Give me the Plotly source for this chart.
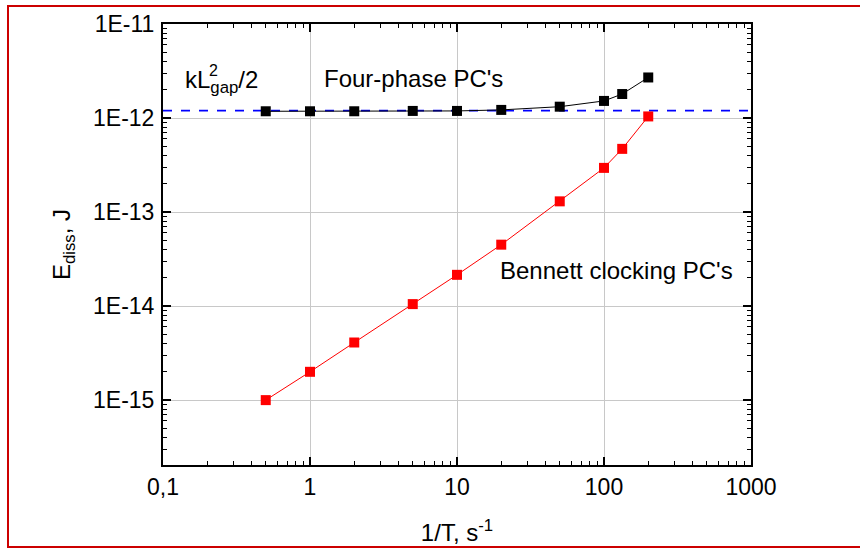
import plotly.graph_objects as go

# Data
freq = [0.5, 1, 2, 5, 10, 20, 50, 100, 133, 200]
four_phase = [1.18e-12, 1.18e-12, 1.18e-12, 1.19e-12, 1.19e-12, 1.22e-12, 1.32e-12, 1.52e-12, 1.8e-12, 2.7e-12]
bennett = [1.0e-15, 2.0e-15, 4.1e-15, 1.05e-14, 2.15e-14, 4.5e-14, 1.3e-13, 2.95e-13, 4.7e-13, 1.04e-12]
kl_level = 1.2e-12
x_range_vals = [0.1, 1000]

x_tickvals = [0.1, 1, 10, 100, 1000]
x_ticktext = ["0,1", "1", "10", "100", "1000"]
y_tickvals = [1e-15, 1e-14, 1e-13, 1e-12, 1e-11]
y_ticktext = ["1E-15", "1E-14", "1E-13", "1E-12", "1E-11"]
x_minor = [m * 10.0 ** e for e in range(-1, 3) for m in range(2, 10)]
y_minor = [m * 10.0 ** e for e in range(-16, -11) for m in range(2, 10)]

FONT = "Liberation Sans, Arial, sans-serif"

fig = go.Figure()

fig.add_trace(go.Scatter(
    x=x_range_vals, y=[kl_level, kl_level], mode="lines",
    line=dict(color="#0000ff", width=1.8, dash="dash"), showlegend=False))

fig.add_trace(go.Scatter(
    x=freq, y=four_phase, mode="lines+markers",
    line=dict(color="black", width=1),
    marker=dict(symbol="square", size=10, color="black"), showlegend=False))

fig.add_trace(go.Scatter(
    x=freq, y=bennett, mode="lines+markers",
    line=dict(color="#ff0000", width=1),
    marker=dict(symbol="square", size=10, color="#ff0000"), showlegend=False))

axis_common = dict(
    type="log", showline=True, linecolor="black", linewidth=2, mirror="ticks",
    ticks="inside", ticklen=8, tickwidth=1.5, tickcolor="black",
    showgrid=True, gridcolor="#c8c8c8", gridwidth=1, zeroline=False,
    tickfont=dict(family=FONT, size=23, color="black"),
    automargin=False, tickmode="array",
)

fig.update_xaxes(
    **axis_common, range=[-1, 3], tickvals=x_tickvals, ticktext=x_ticktext,
    minor=dict(tickmode="array", tickvals=x_minor, ticks="inside", ticklen=4,
               tickwidth=1.2, tickcolor="black", showgrid=False),
    title=dict(text="1/T, s<sup>-1</sup>", font=dict(family=FONT, size=24, color="black"), standoff=26),
)
fig.update_yaxes(
    **axis_common, range=[-15.69, -11], tickvals=y_tickvals, ticktext=y_ticktext,
    minor=dict(tickmode="array", tickvals=y_minor, ticks="inside", ticklen=4,
               tickwidth=1.2, tickcolor="black", showgrid=False),
    ticklabelstandoff=2,
    title=dict(text="E<sub>diss</sub>, J", font=dict(family=FONT, size=24, color="black"), standoff=16),
)

W, H = 860, 550
L, R, T, B = 163, 751, 24, 465


def px(xp):
    return (xp - L) / (R - L)


def py(yp):
    return (B - yp) / (B - T)


ann_font = dict(family=FONT, size=24, color="black")
fig.add_annotation(x=px(183), y=py(82), xref="paper", yref="paper",
                   xanchor="left", yanchor="middle",
                   text="kL<sub>gap</sub>/2", showarrow=False, font=ann_font)
fig.add_annotation(x=px(213), y=py(70), xref="paper", yref="paper",
                   xanchor="center", yanchor="middle",
                   text="2", showarrow=False, font=dict(family=FONT, size=16, color="black"))
fig.add_annotation(x=px(322), y=py(78), xref="paper", yref="paper",
                   xanchor="left", yanchor="middle",
                   text="Four-phase PC's", showarrow=False, font=ann_font)
fig.add_annotation(x=px(498), y=py(270), xref="paper", yref="paper",
                   xanchor="left", yanchor="middle",
                   text="Bennett clocking PC's", showarrow=False, font=ann_font)

# red outer frame
fig.add_shape(type="rect", xref="paper", yref="paper",
              x0=px(8), x1=px(900), y0=py(547), y1=py(6),
              line=dict(color="#cc0000", width=2), fillcolor="rgba(0,0,0,0)", layer="below")

fig.update_layout(
    width=W, height=H,
    margin=dict(l=L, r=W - R, t=T, b=H - B, autoexpand=False),
    paper_bgcolor="white", plot_bgcolor="white",
    font=dict(family=FONT, color="black"),
    showlegend=False,
)

fig.write_html("out.html", config={"displayModeBar": False},
               post_script="document.body.style.margin='0';document.body.style.overflow='hidden';")
